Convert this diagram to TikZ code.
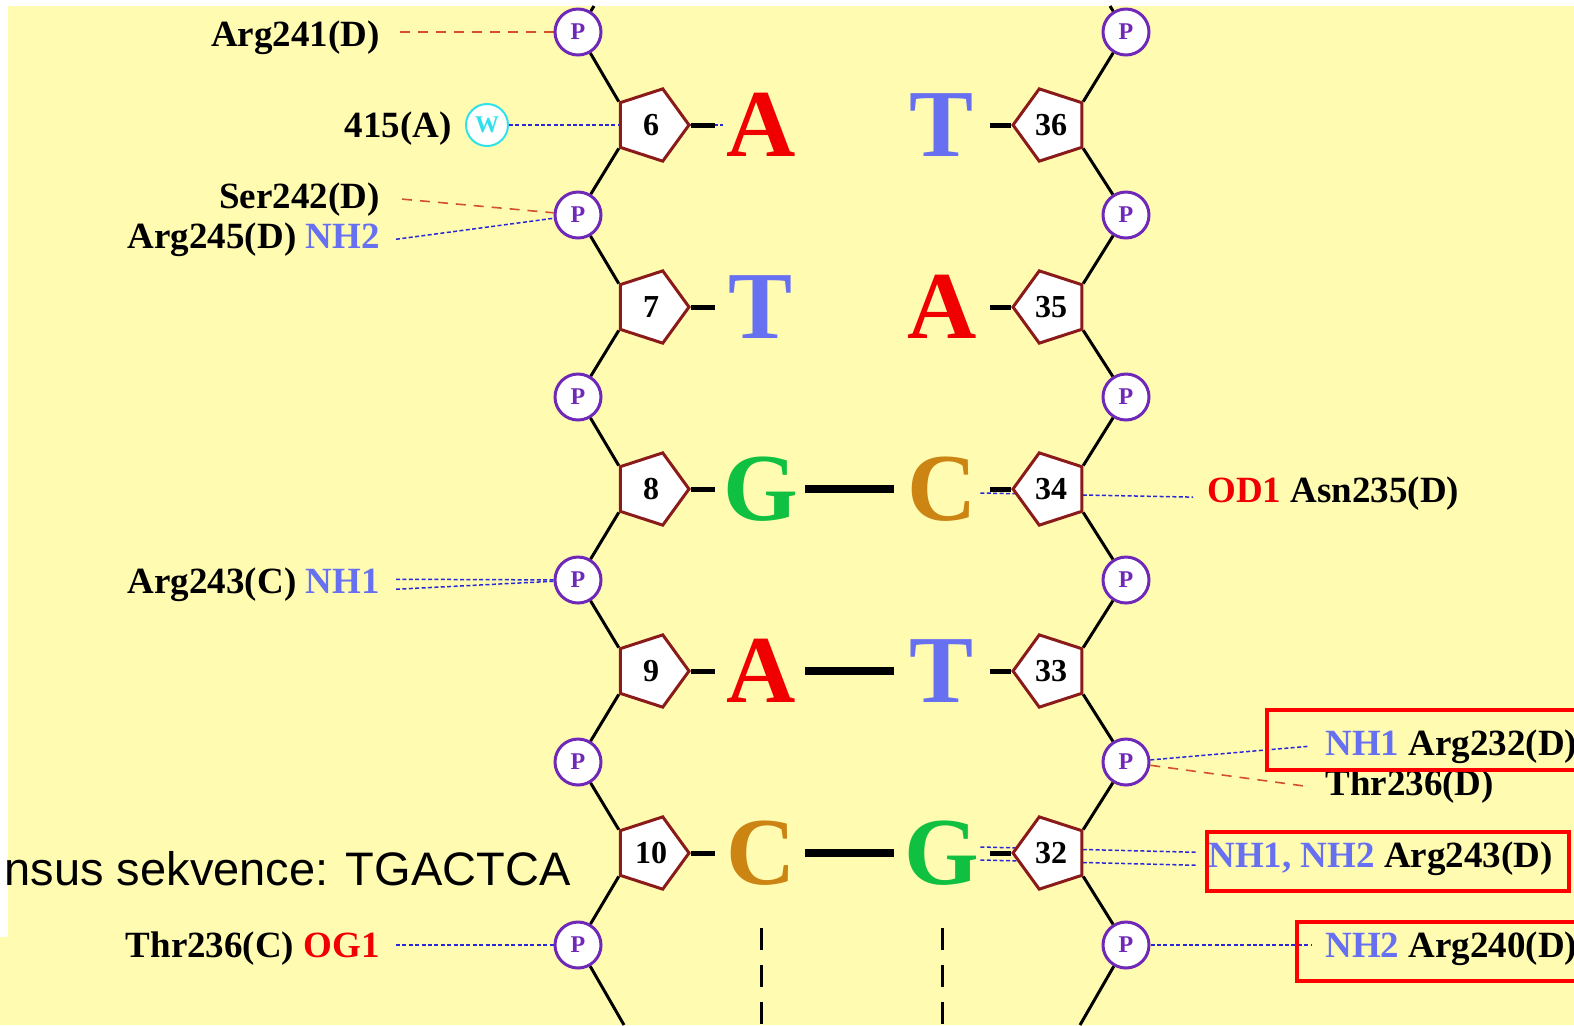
\documentclass[tikz,border=0pt]{standalone}
\usepackage{fontspec}
\setmainfont{Liberation Serif}
\newfontfamily\sansfont{Liberation Sans}
\usetikzlibrary{shapes.geometric,backgrounds}
\definecolor{dnabg}{HTML}{FFFCB2}
\definecolor{phpurple}{HTML}{7028B8}
\definecolor{sugred}{HTML}{8B1A1A}
\definecolor{nhblue}{HTML}{6670F0}
\definecolor{ored}{HTML}{F00000}
\definecolor{ggreen}{HTML}{10C040}
\definecolor{corange}{HTML}{CC8412}
\definecolor{wcyan}{HTML}{30E0EA}
\definecolor{dotblue}{HTML}{2828D8}
\definecolor{dashred}{HTML}{D4502C}

\begin{document}
\begin{tikzpicture}[
  x=0.5pt, y=-0.5pt,
  lab/.style={inner sep=0pt, font=\bfseries\fontsize{18.5}{20}\selectfont},
  phos/.style={circle, draw=phpurple, line width=1.5pt, fill=white, minimum size=23pt,
    inner sep=0pt, text=phpurple, font=\bfseries\fontsize{12}{12}\selectfont},
  sugar/.style={regular polygon, regular polygon sides=5, draw=sugred, line width=1.5pt,
    fill=white, minimum size=38pt, inner sep=0pt, font=\bfseries\fontsize{16}{16}\selectfont},
  sugl/.style={sugar, shape border rotate=-90},
  sugr/.style={sugar, shape border rotate=90},
  nuc/.style={inner sep=0pt, minimum width=38pt, font=\bfseries\fontsize{48}{48}\selectfont},
  strand/.style={line width=1.5pt, black},
  stub/.style={line width=2.5pt, black},
  bond/.style={line width=4pt, black},
  hbblue/.style={line width=0.75pt, dotblue, dash pattern=on 2pt off 1.2pt},
  hbred/.style={line width=0.8pt, dashred, dash pattern=on 5pt off 4pt},
  redbox/.style={draw=red, line width=2pt},
  gapline/.style={line width=1.5pt, black, dash pattern=on 11pt off 7.5pt},
]
  \useasboundingbox (0,0) rectangle (1574,1025);
  \clip (0,0) rectangle (1574,1025);

  % phosphates
  \node[phos] (pl1) at (578,32) {P};
  \node[phos] (pl2) at (578,215) {P};
  \node[phos] (pl3) at (578,397) {P};
  \node[phos] (pl4) at (578,580) {P};
  \node[phos] (pl5) at (578,762) {P};
  \node[phos] (pl6) at (578,945) {P};
  \node[phos] (pr1) at (1126,32) {P};
  \node[phos] (pr2) at (1126,215) {P};
  \node[phos] (pr3) at (1126,397) {P};
  \node[phos] (pr4) at (1126,580) {P};
  \node[phos] (pr5) at (1126,762) {P};
  \node[phos] (pr6) at (1126,945) {P};

  % sugars
  \node[sugl] (s6) at (651,125) {6};
  \node[sugl] (s7) at (651,307) {7};
  \node[sugl] (s8) at (651,489) {8};
  \node[sugl] (s9) at (651,671) {9};
  \node[sugl] (s10) at (651,853) {10};
  \node[sugr] (s36) at (1051,125) {36};
  \node[sugr] (s35) at (1051,307) {35};
  \node[sugr] (s34) at (1051,489) {34};
  \node[sugr] (s33) at (1051,671) {33};
  \node[sugr] (s32) at (1051,853) {32};

  % bases
  \node[nuc, text=ored] (la6) at (761,125) {A};
  \node[nuc, text=nhblue] (lt7) at (761,307) {T};
  \node[nuc, text=ggreen] (lg8) at (761,489) {G};
  \node[nuc, text=ored] (la9) at (761,671) {A};
  \node[nuc, text=corange] (lc10) at (761,853) {C};
  \node[nuc, text=nhblue] (rt36) at (942,125) {T};
  \node[nuc, text=ored] (ra35) at (942,307) {A};
  \node[nuc, text=corange] (rc34) at (942,489) {C};
  \node[nuc, text=nhblue] (rt33) at (942,671) {T};
  \node[nuc, text=ggreen] (rg32) at (942,853) {G};

  % protein contacts
  \node[lab, anchor=base east] (arg241) at (380,46) {Arg241(D)};
  \node[lab, anchor=base east] (w415) at (452,137) {415(A)};
  \node[circle, draw=wcyan, line width=1pt, fill=white, minimum size=21pt, inner sep=0pt,
    text=wcyan, font=\bfseries\fontsize{12}{12}\selectfont] (wat) at (487,125) {W};
  \node[lab, anchor=base east] (ser242) at (380,208) {Ser242(D)};
  \node[lab, anchor=base east] (arg245) at (380,248) {Arg245(D) \textcolor{nhblue}{NH2}};
  \node[lab, anchor=base east] (arg243c) at (380,593) {Arg243(C) \textcolor{nhblue}{NH1}};
  \node[lab, anchor=base east] (thr236c) at (380,957) {Thr236(C) \textcolor{ored}{OG1}};
  \node[lab, anchor=base west] (asn235) at (1207,502) {\textcolor{ored}{OD1} Asn235(D)};
  \node[lab, anchor=base west] (arg232) at (1325,755) {\textcolor{nhblue}{NH1} Arg232(D)};
  \node[lab, anchor=base west] (thr236d) at (1325,795) {Thr236(D)};
  \node[lab, anchor=base west] (arg243d) at (1208,867) {\textcolor{nhblue}{NH1, NH2} Arg243(D)};
  \node[lab, anchor=base west] (arg240) at (1325,957) {\textcolor{nhblue}{NH2} Arg240(D)};

  \node[anchor=base east, inner sep=0pt, font=\sansfont\fontsize{23.5}{26}\selectfont]
    (consensus) at (571,885) {nsus sekvence: TGACTCA};

  \coordinate (topl) at (594,6);
  \coordinate (topr) at (1110,6);
  \coordinate (botl) at (624,1025);
  \coordinate (botr) at (1080,1025);
  \coordinate (gapl) at (761,928);
  \coordinate (gapr) at (942,928);

  % backbone
  \draw[strand] (topl) -- (pl1) -- (s6.corner 3);
  \draw[strand] (s6.corner 4) -- (pl2) -- (s7.corner 3);
  \draw[strand] (s7.corner 4) -- (pl3) -- (s8.corner 3);
  \draw[strand] (s8.corner 4) -- (pl4) -- (s9.corner 3);
  \draw[strand] (s9.corner 4) -- (pl5) -- (s10.corner 3);
  \draw[strand] (s10.corner 4) -- (pl6) -- (botl);
  \draw[strand] (topr) -- (pr1) -- (s36.corner 4);
  \draw[strand] (s36.corner 3) -- (pr2) -- (s35.corner 4);
  \draw[strand] (s35.corner 3) -- (pr3) -- (s34.corner 4);
  \draw[strand] (s34.corner 3) -- (pr4) -- (s33.corner 4);
  \draw[strand] (s33.corner 3) -- (pr5) -- (s32.corner 4);
  \draw[strand] (s32.corner 3) -- (pr6) -- (botr);

  % glycosidic stubs
  \draw[stub, shorten >=4pt] (s6.corner 1) -- (la6.west);
  \draw[stub, shorten >=4pt] (s7.corner 1) -- (lt7.west);
  \draw[stub, shorten >=4pt] (s8.corner 1) -- (lg8.west);
  \draw[stub, shorten >=4pt] (s9.corner 1) -- (la9.west);
  \draw[stub, shorten >=4pt] (s10.corner 1) -- (lc10.west);
  \draw[stub, shorten <=5pt] (rt36.east) -- (s36.corner 1);
  \draw[stub, shorten <=5pt] (ra35.east) -- (s35.corner 1);
  \draw[stub, shorten <=5pt] (rc34.east) -- (s34.corner 1);
  \draw[stub, shorten <=5pt] (rt33.east) -- (s33.corner 1);
  \draw[stub, shorten <=5pt] (rg32.east) -- (s32.corner 1);

  % base pairs
  \draw[bond, shorten <=3pt, shorten >=5pt] (lg8.east) -- (rc34.west);
  \draw[bond, shorten <=3pt, shorten >=5pt] (la9.east) -- (rt33.west);
  \draw[bond, shorten <=3pt, shorten >=5pt] (lc10.east) -- (rg32.west);
  \draw[gapline] (gapl) -- ++(0,100);
  \draw[gapline] (gapr) -- ++(0,100);

  % highlighted contacts
  \draw[redbox] (1267,710) rectangle (1600,770);
  \draw[redbox] (1207,832) rectangle (1569,891);
  \draw[redbox] (1297,922) rectangle (1600,981);

  \begin{pgfonlayer}{background}
    \fill[white] (0,0) rectangle (1574,1025);
    \fill[dnabg] (8,6) -- (1574,6) -- (1574,1025) -- (0,1025) -- (0,937) -- (8,937) -- cycle;
    \draw[hbred] ([xshift=10pt]arg241.east |- pl1) -- (pl1);
    \draw[hbblue] (wat) -- (la6.west);
    \draw[hbred] ([xshift=11pt]ser242.east) -- (pl2);
    \draw[hbblue] ([xshift=8pt]arg245.east) -- (pl2);
    \draw[hbblue] ([xshift=8pt,yshift=2.5pt]arg243c.east) -- (pl4);
    \draw[hbblue] ([xshift=8pt,yshift=-2.5pt]arg243c.east) -- (pl4);
    \draw[hbblue] ([xshift=8pt]thr236c.east |- pl6) -- (pl6);
    \draw[hbblue] ([yshift=-2pt]rc34.east) -- ([xshift=-7pt,yshift=-2pt]asn235.west);
    \draw[hbblue] (pr5) -- ([xshift=-8pt]arg232.west);
    \draw[hbred] (pr5) -- ([xshift=-10pt]thr236d.west);
    \draw[hbblue] ([yshift=3pt]rg32.east) -- ([xshift=-6pt,yshift=3pt]arg243d.west);
    \draw[hbblue] ([yshift=-3.5pt]rg32.east) -- ([xshift=-6pt,yshift=-3.5pt]arg243d.west);
    \draw[hbblue] (pr6) -- ([xshift=-7pt]arg240.west |- pr6);
  \end{pgfonlayer}
\end{tikzpicture}
\end{document}
